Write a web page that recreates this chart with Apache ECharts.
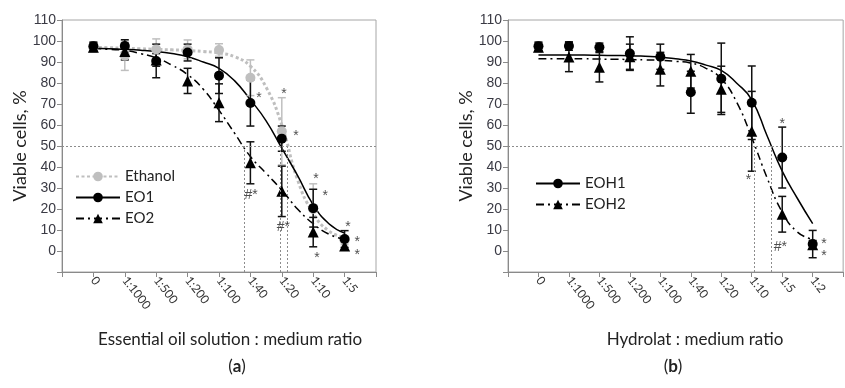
<!DOCTYPE html>
<html><head><meta charset="utf-8">
<script src="https://cdn.jsdelivr.net/npm/echarts@6/dist/echarts.min.js"></script>
<style>html,body{margin:0;padding:0;background:#fff;}#c{width:845px;height:388px;}</style>
</head><body><div id="c"></div>
<script>
// ---------- categories ----------
const catsA = ['0','1:1000','1:500','1:200','1:100','1:40','1:20','1:10','1:5'];
const catsB = ['0','1:1000','1:500','1:200','1:100','1:40','1:20','1:10','1:5','1:2'];
const yMin = -10, yMax = 110, yStep = 10;

// ---------- panel (a) measured points ----------
const ethanolMean = [97, 93, 96, 96, 95.7, 82.5, 57, 20, 5];
const ethanolErr  = [2, 7, 5, 4.5, 3, 8.5, 16, 12, 2];
const eo1Mean = [97.5, 97.6, 90.5, 94.5, 83.5, 70.5, 53.5, 20.4, 5.7];
const eo1Err  = [2, 3, 8, 4, 8.5, 11, 6, 9, 4];
const eo2Mean = [97, 95, 91, 81, 70.6, 42, 28.4, 9, 2.4];
const eo2Err  = [2, 4, 3, 6, 9, 10, 12, 7, 2];
// fitted curves every half category
const fitXA = [0,0.5,1,1.5,2,2.5,3,3.5,4,4.5,5,5.5,6,6.5,7,7.5,8];
const ethanolFit = [97,96.8,96.5,96.3,96,95.8,95.5,95,94.3,92.5,88,78,60,34,18,9.5,6.5];
const eo1Fit     = [96.5,96.3,96,95.6,95,94,92.5,90,87,81,72,62,49,36,22,13,8.5];
const eo2Fit     = [96.5,96,95.5,94,92,88.5,84,77,67,56,45,37,29,20,13,8,5.5];
const ic50A = [4.82, 5.94, 6.17];
const starsA = [[5.27,74,'*'],[6.07,76,'*'],[6.45,56,'*'],[5.02,28,'#*'],[6.05,13,'#*'],[7.09,35.5,'*'],[7.38,27.5,'*'],[7.12,-2,'*'],[8.11,13,'*'],[8.4,5.7,'*'],[8.4,-0.5,'*']];

// ---------- panel (b) measured points ----------
const eoh1Mean = [97.5, 97.6, 97, 94, 92.5, 75.6, 82, 70.6, 44.5, 3.3];
const eoh1Err  = [2, 2, 2, 8, 6, 10, 17, 17.5, 14.5, 6.5];
const eoh2Mean = [97, 92.4, 87.5, 92.5, 86.6, 85.6, 77, 57, 17.5, 3];
const eoh2Err  = [2, 7, 7, 6, 8, 8, 11, 19, 8.5, 2];
const fitXB = [0,0.5,1,1.5,2,2.5,3,3.5,4,4.5,5,5.5,6,6.5,7,7.5,8,8.5,9];
const eoh1Fit = [93.3,93.3,93.3,93.3,93.2,93.1,93,92.7,92.3,91.5,90.5,88.5,86,80,72,55,38,25,13];
const eoh2Fit = [91.5,91.5,91.5,91.5,91.4,91.3,91.2,91,90.8,90.3,89.5,87,82,71,54,35,18.5,9,5.5];
const ic50B = [7.08, 7.65];
const starsB = [[6.89,35,'*'],[8.0,61.6,'*'],[7.94,3.3,'#*'],[9.37,4.7,'*'],[9.37,-1,'*']];

// ---------- helpers ----------
const DASHDOT = [8,4,2,4];
function errSeries(mean, err, color, gi){
  return {
    type:'custom', xAxisIndex:gi, yAxisIndex:gi, silent:true, z:3,
    encode:{x:0,y:1},
    data: mean.map((v,i)=>[i,v,err[i]]),
    renderItem:function(params, api){
      const x=api.value(0), y=api.value(1), e=api.value(2);
      const t=api.coord([x,y+e]), b=api.coord([x,y-e]);
      const hw=4, st={stroke:color,lineWidth:1.5};
      return {type:'group', children:[
        {type:'line', shape:{x1:t[0],y1:t[1],x2:b[0],y2:b[1]}, style:st},
        {type:'line', shape:{x1:t[0]-hw,y1:t[1],x2:t[0]+hw,y2:t[1]}, style:st},
        {type:'line', shape:{x1:b[0]-hw,y1:b[1],x2:b[0]+hw,y2:b[1]}, style:st}
      ]};
    }
  };
}
function ptSeries(mean, symbol, color, gi){
  return {type:'scatter', xAxisIndex:gi, yAxisIndex:gi, silent:true, z:4,
    symbol:symbol, symbolSize: symbol==='triangle'?11:10,
    itemStyle:{color:color, opacity:1},
    data: mean.map((v,i)=>[i,v])};
}
function fitSeries(name, xs, ys, color, width, type, symbol, gi){
  return {type:'line', name:name, xAxisIndex:gi, yAxisIndex:gi, data:xs.map((x,i)=>[x,ys[i]]),
    showSymbol:false, symbol:symbol, symbolSize:10, smooth:0.5, silent:true, z:2,
    itemStyle:{color:color}, lineStyle:{color:color, width:width, type:type}};
}
function starSeries(stars, gi){
  return {type:'scatter', xAxisIndex:gi, yAxisIndex:gi, silent:true, z:5,
    symbolSize:1, itemStyle:{color:'rgba(0,0,0,0)'},
    data: stars.map(s=>[s[0],s[1],s[2]]),
    label:{show:true, position:'inside', formatter:p=>p.data[2], color:'#222',
      fontFamily:'Liberation Sans', fontSize:14, offset:[0,3]}};
}
function refLines(ics, gi){
  const d=[{yAxis:50}];
  ics.forEach(x=>d.push([{coord:[x,50]},{coord:[x,yMin]}]));
  return {type:'line', xAxisIndex:gi, yAxisIndex:gi, data:[], silent:true,
    markLine:{silent:true, symbol:'none', label:{show:false},
      lineStyle:{color:'#8c8c8c', width:1, type:[2,2]}, data:d}};
}
function xAx(cats, gi, max){
  return {type:'value', gridIndex:gi, min:-1, max:max, interval:1,
    axisLine:{onZero:false, lineStyle:{color:'#8a8a8a'}},
    axisTick:{show:true, length:5, lineStyle:{color:'#8a8a8a'}},
    splitLine:{show:false},
    axisLabel:{rotate:-52, margin:6, color:'#333', fontFamily:'Lato', fontSize:12,
      showMinLabel:true, showMaxLabel:true,
      formatter:v=>{const i=Math.round(v); return (Math.abs(v-i)<1e-6 && i>=0 && i<cats.length)?cats[i]:'';}}};
}
function yAx(gi){
  return {type:'value', gridIndex:gi, min:yMin, max:yMax, interval:yStep,
    name:'Viable cells, %', nameLocation:'middle', nameGap:32,
    nameTextStyle:{fontFamily:'Lato', fontSize:18, color:'#222'},
    axisLine:{show:true, onZero:false, lineStyle:{color:'#8a8a8a'}},
    axisTick:{show:true, length:5, lineStyle:{color:'#8a8a8a'}},
    splitLine:{show:false},
    axisLabel:{margin:6, color:'#3a3a44', fontFamily:'Liberation Sans', fontSize:14,
      formatter:v=>v<0?'':String(v)}};
}

const chart = echarts.init(document.getElementById('c'), null, {renderer:'canvas'});
chart.setOption({
  animation:false,
  backgroundColor:'#fff',
  grid:[
    {left:62, top:20, width:314, height:252, show:true, borderColor:'#a6a6a6', borderWidth:1, backgroundColor:'transparent'},
    {left:508, top:20, width:346.5, height:252, show:true, borderColor:'#a6a6a6', borderWidth:1, backgroundColor:'transparent'}
  ],
  xAxis:[xAx(catsA,0,9), xAx(catsB,1,10)],
  yAxis:[yAx(0), yAx(1)],
  legend:[
    {data:['Ethanol','EO1','EO2'], orient:'vertical', left:70, top:164, itemWidth:44, itemHeight:12, itemGap:6,
     textStyle:{fontFamily:'Lato', fontSize:15, color:'#222'}},
    {data:['EOH1','EOH2'], orient:'vertical', left:530, top:171, itemWidth:44, itemHeight:12, itemGap:6,
     textStyle:{fontFamily:'Lato', fontSize:15, color:'#222'}}
  ],
  graphic:[
    {type:'text', style:{text:'Essential oil solution : medium ratio', x:230, y:340, align:'center', verticalAlign:'middle', fontFamily:'Lato', fontSize:17, fill:'#222'}},
    {type:'text', style:{text:'Hydrolat : medium ratio', x:695, y:340, align:'center', verticalAlign:'middle', fontFamily:'Lato', fontSize:17, fill:'#222'}},
    {type:'text', style:{text:'({b|a})', x:237, y:367, align:'center', verticalAlign:'middle', fontFamily:'Lato', fontSize:17, fill:'#222', rich:{b:{fontWeight:'bold', fontFamily:'Lato', fontSize:17, fill:'#222'}}}},
    {type:'text', style:{text:'({b|b})', x:673, y:367, align:'center', verticalAlign:'middle', fontFamily:'Lato', fontSize:17, fill:'#222', rich:{b:{fontWeight:'bold', fontFamily:'Lato', fontSize:17, fill:'#222'}}}}
  ],
  series:[
    refLines(ic50A,0),
    fitSeries('Ethanol', fitXA, ethanolFit, '#bfbfbf', 3, [3,2.5], 'circle', 0),
    fitSeries('EO2', fitXA, eo2Fit, '#000', 1.5, DASHDOT, 'triangle', 0),
    fitSeries('EO1', fitXA, eo1Fit, '#000', 1.5, 'solid', 'circle', 0),
    errSeries(ethanolMean, ethanolErr, '#bfbfbf', 0),
    ptSeries(ethanolMean, 'circle', '#bfbfbf', 0),
    errSeries(eo2Mean, eo2Err, '#111', 0),
    ptSeries(eo2Mean, 'triangle', '#000', 0),
    errSeries(eo1Mean, eo1Err, '#111', 0),
    ptSeries(eo1Mean, 'circle', '#000', 0),
    starSeries(starsA, 0),
    refLines(ic50B,1),
    fitSeries('EOH2', fitXB, eoh2Fit, '#000', 1.5, DASHDOT, 'triangle', 1),
    fitSeries('EOH1', fitXB, eoh1Fit, '#000', 1.5, 'solid', 'circle', 1),
    errSeries(eoh2Mean, eoh2Err, '#111', 1),
    ptSeries(eoh2Mean, 'triangle', '#000', 1),
    errSeries(eoh1Mean, eoh1Err, '#111', 1),
    ptSeries(eoh1Mean, 'circle', '#000', 1),
    starSeries(starsB, 1)
  ]
});
</script></body></html>
